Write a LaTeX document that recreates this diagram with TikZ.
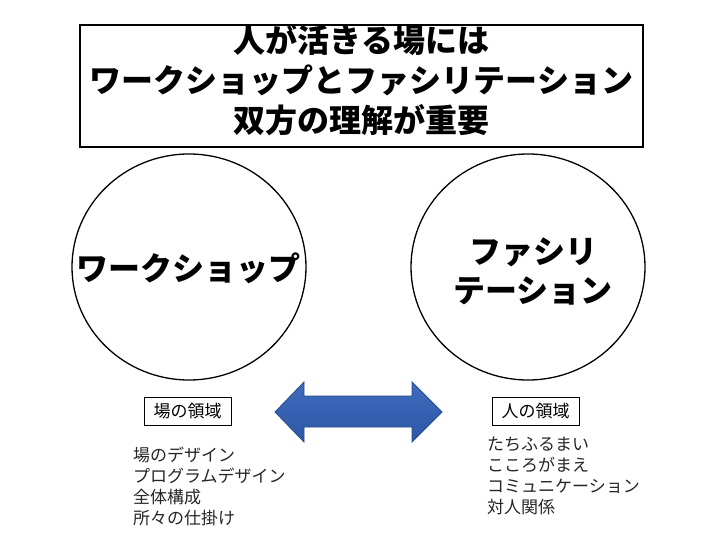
\documentclass[tikz,border=0pt]{standalone}
\usepackage{fontspec}
\newfontfamily\jpheavy{Noto Sans CJK JP Black}
\newfontfamily\jpreg{Noto Sans CJK JP}
\usetikzlibrary{shapes.geometric}
\definecolor{arrowtop}{HTML}{3F6CBE}
\definecolor{arrowmid}{HTML}{4C80D6}
\definecolor{arrowbot}{HTML}{2C57A6}
\definecolor{arrowline}{HTML}{2A4C86}
\begin{document}
\begin{tikzpicture}[x=1pt,y=-1pt,
  titlebox/.style={draw, line width=1.3pt, minimum width=563pt, minimum height=122pt, inner sep=0pt},
  heavytext/.style={font=\jpheavy\fontsize{32}{40}\selectfont, align=center, inner sep=0pt},
  bigcircle/.style={ellipse, draw, line width=1.3pt, minimum width=234pt, minimum height=226pt, inner sep=0pt},
  circletext/.style={font=\jpheavy\fontsize{32}{39}\selectfont, align=center, inner sep=0pt},
  areabox/.style={draw, line width=0.8pt, minimum width=87pt, minimum height=28pt, inner sep=0pt,
    font=\jpreg\fontsize{17}{20}\selectfont},
  listtext/.style={anchor=north west, align=left, inner sep=0pt, text=black!85,
    font=\jpreg\fontsize{17}{21}\selectfont},
  bigarrow/.style={draw=arrowline, line width=0.8pt, top color=arrowtop, middle color=arrowmid, bottom color=arrowbot}
]
\path[use as bounding box, fill=white] (0,0) rectangle (720,540);

% title
\node[titlebox] (title) at (361.5,86) {};
\node[heavytext] (titletext) at (361.5,80.5) {人が活きる場には\\ワークショップとファシリテーション\\双方の理解が重要};

% circles
\node[bigcircle] (ws) at (189,267) {};
\node[circletext] (wstext) at (188,268) {ワークショップ};
\node[bigcircle] (fa) at (528,267) {};
\node[circletext] (fatext) at (533,271) {ファシリ\\テーション};

% double arrow
\draw[bigarrow] (275,412) -- (304,382) -- (304,396) -- (412,396) -- (412,382) -- (442,412)
  -- (412,442) -- (412,427) -- (304,427) -- (304,442) -- cycle;

% area labels
\node[areabox] (basho) at (187.5,411) {場の領域};
\node[areabox] (hito) at (535.5,411) {人の領域};

% lists
\node[listtext] (blist) at (133,447) {場のデザイン\\プログラムデザイン\\全体構成\\所々の仕掛け};
\node[listtext] (hlist) at (487,437) {たちふるまい\\こころがまえ\\コミュニケーション\\対人関係};
\end{tikzpicture}
\end{document}
